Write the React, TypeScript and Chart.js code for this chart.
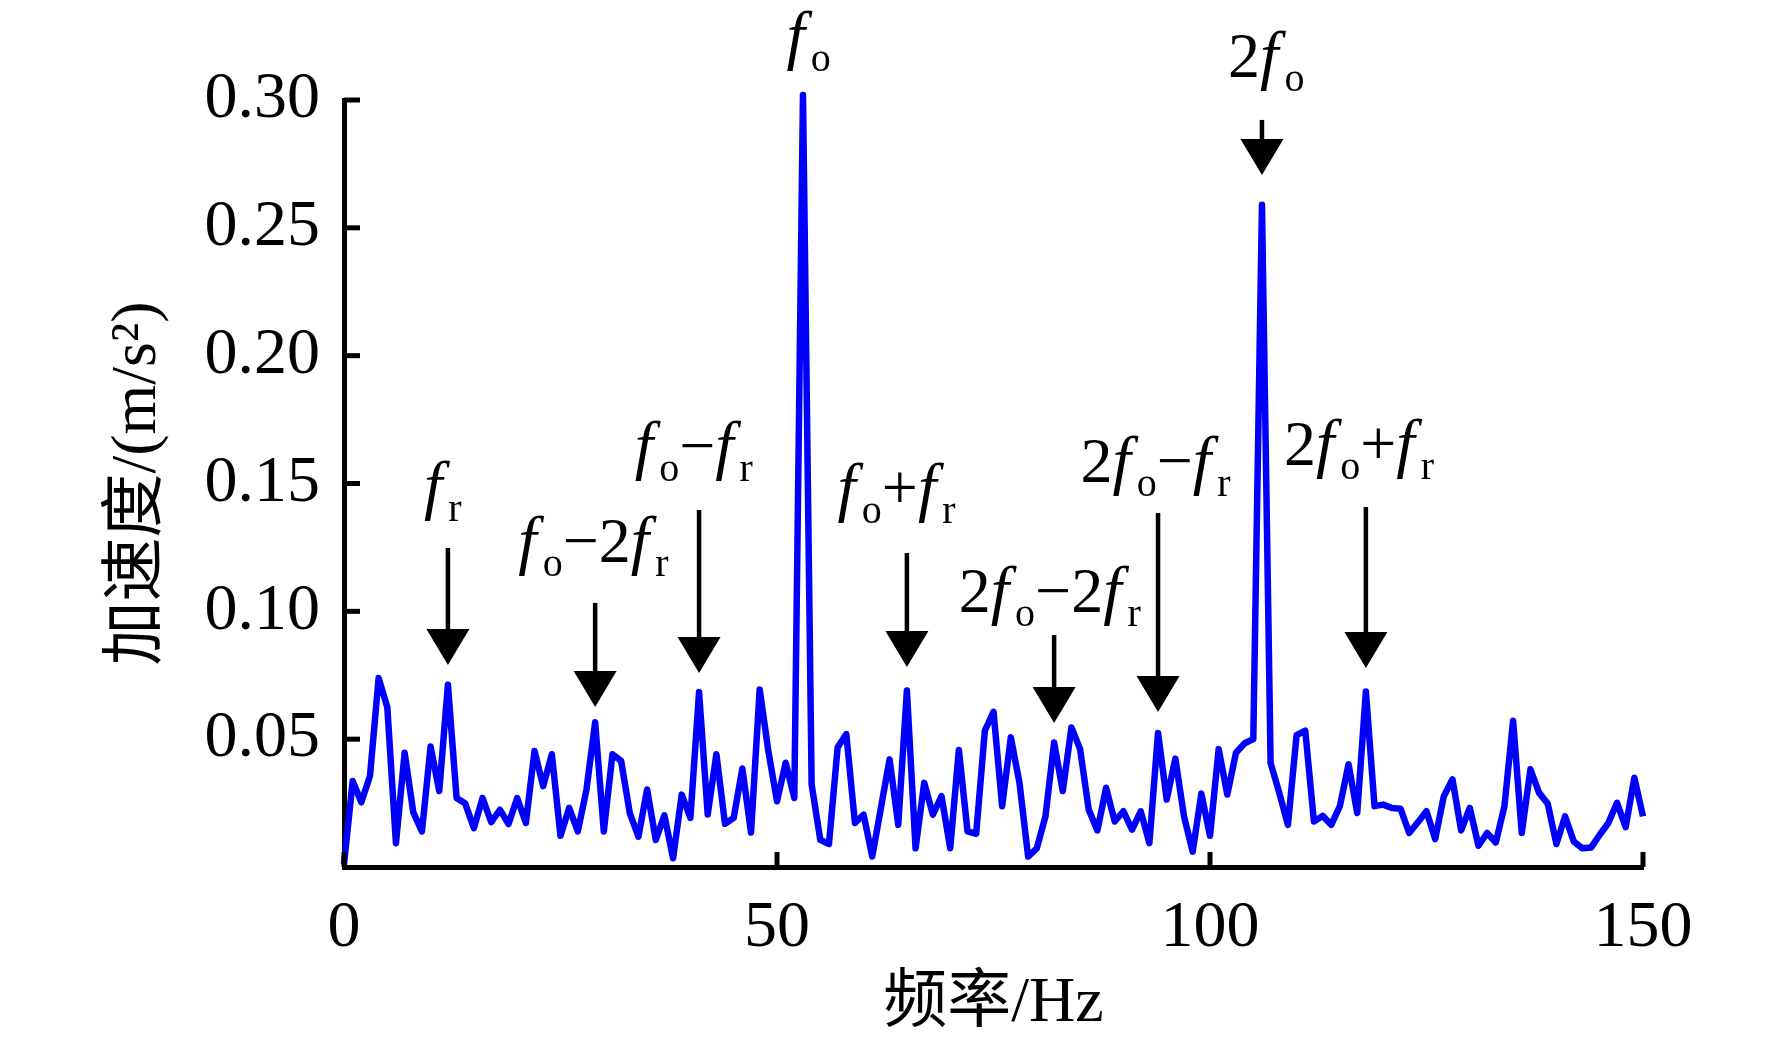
import { useEffect, useRef } from 'react';
import { Chart, registerables } from 'chart.js';

Chart.register(...registerables);

// spectrum, 1 Hz bins
const freqHz = [
  0, 1, 2, 3, 4, 5, 6, 7, 8, 9, 10, 11, 12, 13, 14, 15, 16, 17, 18, 19,
  20, 21, 22, 23, 24, 25, 26, 27, 28, 29, 30, 31, 32, 33, 34, 35, 36, 37, 38, 39,
  40, 41, 42, 43, 44, 45, 46, 47, 48, 49, 50, 51, 52, 53, 54, 55, 56, 57, 58, 59,
  60, 61, 62, 63, 64, 65, 66, 67, 68, 69, 70, 71, 72, 73, 74, 75, 76, 77, 78, 79,
  80, 81, 82, 83, 84, 85, 86, 87, 88, 89, 90, 91, 92, 93, 94, 95, 96, 97, 98, 99,
  100, 101, 102, 103, 104, 105, 106, 107, 108, 109, 110, 111, 112, 113, 114, 115, 116, 117, 118, 119,
  120, 121, 122, 123, 124, 125, 126, 127, 128, 129, 130, 131, 132, 133, 134, 135, 136, 137, 138, 139,
  140, 141, 142, 143, 144, 145, 146, 147, 148, 149, 150,
];

const amplitude = [
  0.001, 0.0336, 0.0253, 0.0356, 0.0739, 0.0625, 0.0093, 0.0447, 0.0214, 0.0139,
  0.0471, 0.0297, 0.0713, 0.027, 0.0248, 0.0152, 0.027, 0.0175, 0.0224, 0.0168,
  0.027, 0.0172, 0.0454, 0.0316, 0.0441, 0.0122, 0.0231, 0.0139, 0.0303, 0.0566,
  0.0139, 0.0441, 0.0415, 0.0211, 0.0119, 0.0303, 0.0106, 0.0202, 0.0034, 0.0283,
  0.0192, 0.0684, 0.0205, 0.0441, 0.0169, 0.0192, 0.0385, 0.0135, 0.0694, 0.0454,
  0.0257, 0.0408, 0.027, 0.302, 0.0323, 0.0106, 0.009, 0.0467, 0.052, 0.0172,
  0.0205, 0.0041, 0.0231, 0.0421, 0.0165, 0.069, 0.0073, 0.0329, 0.0205, 0.0277,
  0.0073, 0.0458, 0.0139, 0.013, 0.0533, 0.0607, 0.0238, 0.0507, 0.0329, 0.0041,
  0.0073, 0.0198, 0.0487, 0.0297, 0.0546, 0.0461, 0.0224, 0.0143, 0.031, 0.0178,
  0.0218, 0.0146, 0.0218, 0.0093, 0.0524, 0.0264, 0.0424, 0.0198, 0.006, 0.0287,
  0.0122, 0.0461, 0.0283, 0.0447, 0.0484, 0.05, 0.259, 0.0406, 0.029, 0.0165,
  0.0516, 0.0533, 0.0178, 0.02, 0.0165, 0.0238, 0.0402, 0.0211, 0.0686, 0.0238,
  0.0244, 0.0231, 0.0228, 0.0133, 0.0175, 0.0218, 0.0109, 0.0277, 0.0343, 0.0143,
  0.0231, 0.0083, 0.0133, 0.0096, 0.0238, 0.0572, 0.0133, 0.0382, 0.029, 0.0248,
  0.009, 0.0198, 0.01, 0.0073, 0.0076, 0.0126, 0.0172, 0.0251, 0.0156, 0.0349,
  0.0198,
];

// peak labels: "f" italic, "_x" subscript, rest upright
const labelTexts = ['f_r', 'f_o−2f_r', 'f_o−f_r', 'f_o', 'f_o+f_r', '2f_o−2f_r', '2f_o−f_r', '2f_o', '2f_o+f_r'];
const labelHz = [11.4, 28.8, 40.4, 53.65, 63.8, 81.5, 93.7, 106.5, 117.2];
const labelAmp = [0.1408, 0.1193, 0.1565, 0.3168, 0.14, 0.0997, 0.1506, 0.309, 0.1572];

// arrows pointing at the peaks
const arrowHz = [12, 29, 41, 65, 82, 94, 106, 118];
const arrowFrom = [0.1248, 0.1033, 0.1396, 0.1228, 0.0907, 0.1385, 0.2922, 0.1408];
const arrowTo = [0.079, 0.0626, 0.0759, 0.0782, 0.0563, 0.0606, 0.2707, 0.0778];

const SERIF = "'Liberation Serif', 'Times New Roman', 'Noto Sans CJK SC', serif";

const drawLabel = (ctx: CanvasRenderingContext2D, text: string, cx: number, baseY: number) => {
  const parts: { t: string; kind: string }[] = [];
  for (let i = 0; i < text.length; i++) {
    const c = text[i];
    if (c === '_') {
      parts.push({ t: text[i + 1], kind: 'sub' });
      i++;
    } else if (c === 'f') {
      parts.push({ t: c, kind: 'it' });
    } else {
      parts.push({ t: c, kind: 'up' });
    }
  }
  const fontFor = (kind: string) =>
    kind === 'it' ? `italic 66px ${SERIF}` : kind === 'sub' ? `40px ${SERIF}` : `64px ${SERIF}`;
  let total = 0;
  const widths = parts.map((p) => {
    ctx.font = fontFor(p.kind);
    const w = ctx.measureText(p.t).width + (p.kind === 'it' ? 6 : 0);
    total += w;
    return w;
  });
  let x = cx - total / 2;
  ctx.textAlign = 'left';
  ctx.textBaseline = 'alphabetic';
  ctx.fillStyle = '#000';
  parts.forEach((p, i) => {
    ctx.font = fontFor(p.kind);
    ctx.fillText(p.t, x, p.kind === 'sub' ? baseY + 14 : baseY);
    x += widths[i];
  });
};

const annotationPlugin = {
  id: 'peakAnnotations',
  afterDatasetsDraw(chart: any) {
    const { ctx, scales } = chart;
    const xs = scales.x;
    const ys = scales.y;
    ctx.save();
    // inward tick marks
    ctx.strokeStyle = '#000';
    ctx.lineWidth = 5;
    ys.ticks.forEach((t: any) => {
      if (t.value === 0) return;
      const py = ys.getPixelForValue(t.value);
      ctx.beginPath();
      ctx.moveTo(xs.left, py);
      ctx.lineTo(xs.left + 16, py);
      ctx.stroke();
    });
    xs.ticks.forEach((t: any) => {
      const px = xs.getPixelForValue(t.value);
      ctx.beginPath();
      ctx.moveTo(px, ys.bottom);
      ctx.lineTo(px, ys.bottom - 15);
      ctx.stroke();
    });
    // arrows
    arrowHz.forEach((hz, i) => {
      const px = xs.getPixelForValue(hz);
      const y0 = ys.getPixelForValue(arrowFrom[i]);
      const y1 = ys.getPixelForValue(arrowTo[i]);
      const headH = 36;
      const headW = 43;
      ctx.lineWidth = 4.5;
      ctx.beginPath();
      ctx.moveTo(px, y0);
      ctx.lineTo(px, y1 - headH + 2);
      ctx.stroke();
      ctx.fillStyle = '#000';
      ctx.beginPath();
      ctx.moveTo(px - headW / 2, y1 - headH);
      ctx.lineTo(px + headW / 2, y1 - headH);
      ctx.lineTo(px, y1);
      ctx.closePath();
      ctx.fill();
    });
    // labels
    labelTexts.forEach((txt, i) => {
      drawLabel(ctx, txt, xs.getPixelForValue(labelHz[i]), ys.getPixelForValue(labelAmp[i]));
    });
    ctx.restore();
  },
};

const SpectrumChart = () => {
  const canvasRef = useRef<HTMLCanvasElement>(null);

  useEffect(() => {
    document.body.style.margin = '0';
    document.body.style.overflow = 'hidden';
    if (!canvasRef.current) return;
    const chart = new Chart(canvasRef.current, {
      type: 'line',
      data: {
        datasets: [
          {
            data: freqHz.map((f, i) => ({ x: f, y: amplitude[i] })),
            borderColor: '#0000ff',
            borderWidth: 6.5,
            borderJoinStyle: 'round',
            pointRadius: 0,
            fill: false,
            tension: 0,
            clip: false as any,
          },
        ],
      },
      options: {
        responsive: false,
        animation: false,
        devicePixelRatio: 1,
        layout: { padding: { top: 100, right: 129, left: 0, bottom: 0 } },
        plugins: { legend: { display: false }, tooltip: { enabled: false } },
        scales: {
          x: {
            type: 'linear',
            min: 0,
            max: 150,
            afterFit: (scale: any) => {
              scale.height = 178;
            },
            ticks: {
              stepSize: 50,
              padding: 22,
              color: '#000',
              font: { family: SERIF, size: 66 },
            },
            grid: { display: false, drawTicks: false },
            border: { display: true, color: '#000', width: 5 },
            title: {
              display: true,
              text: '频率/Hz',
              color: '#000',
              font: { family: SERIF, size: 64 },
              padding: { top: 0, bottom: 2 },
            },
          },
          y: {
            min: 0,
            max: 0.3,
            afterFit: (scale: any) => {
              scale.width = 344;
            },
            ticks: {
              stepSize: 0.05,
              padding: 24,
              color: '#000',
              font: { family: SERIF, size: 66 },
              callback: (v: any) => (Number(v) === 0 ? '' : Number(v).toFixed(2)),
            },
            grid: { display: false, drawTicks: false },
            border: { display: true, color: '#000', width: 5 },
            title: {
              display: true,
              text: '加速度/(m/s²)',
              color: '#000',
              font: { family: SERIF, size: 64 },
              padding: { top: 100, bottom: 0 },
            },
          },
        },
      },
      plugins: [annotationPlugin],
    });
    return () => {
      chart.destroy();
    };
  }, []);

  return <canvas ref={canvasRef} width={1772} height={1045} style={{ display: 'block' }}></canvas>;
};

export default function App() {
  return <SpectrumChart />;
}
